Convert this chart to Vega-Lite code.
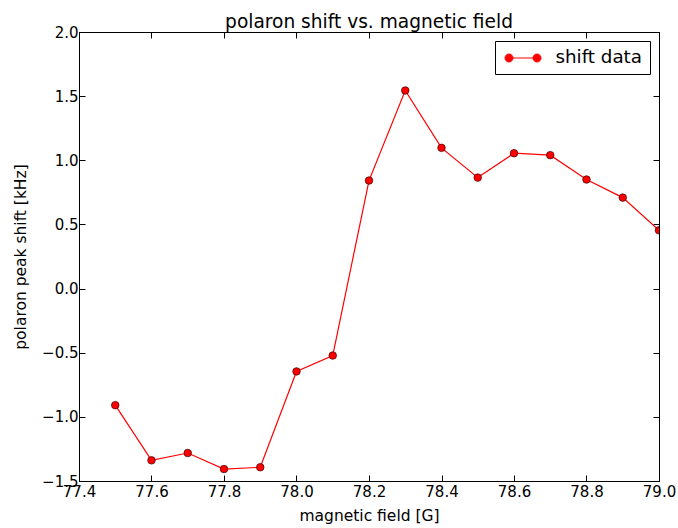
{
  "$schema": "https://vega.github.io/schema/vega-lite/v6.json",
  "width": 580,
  "height": 449,
  "autosize": {"type": "none"},
  "padding": {"left": 79, "top": 32, "right": 19, "bottom": 47},
  "background": "white",
  "config": {
    "font": "DejaVu Sans",
    "view": {"stroke": "black", "strokeWidth": 1},
    "axis": {
      "grid": false,
      "domainColor": "black",
      "domainWidth": 1,
      "tickColor": "black",
      "tickSize": -6,
      "tickWidth": 1,
      "labelFont": "DejaVu Sans",
      "labelFontSize": 15,
      "labelColor": "black",
      "titleFont": "DejaVu Sans",
      "titleFontSize": 15.5,
      "titleFontWeight": "normal",
      "titleColor": "black"
    }
  },
  "title": {
    "text": "polaron shift vs. magnetic field",
    "font": "DejaVu Sans",
    "fontSize": 18.6,
    "fontWeight": "normal",
    "color": "black",
    "anchor": "middle",
    "offset": -7
  },
  "data": {
    "values": [
      {"field": 77.5, "shift": -0.909, "series": "shift data"},
      {"field": 77.6, "shift": -1.339, "series": "shift data"},
      {"field": 77.7, "shift": -1.282, "series": "shift data"},
      {"field": 77.8, "shift": -1.407, "series": "shift data"},
      {"field": 77.9, "shift": -1.393, "series": "shift data"},
      {"field": 78.0, "shift": -0.646, "series": "shift data"},
      {"field": 78.1, "shift": -0.522, "series": "shift data"},
      {"field": 78.2, "shift": 0.842, "series": "shift data"},
      {"field": 78.3, "shift": 1.544, "series": "shift data"},
      {"field": 78.4, "shift": 1.097, "series": "shift data"},
      {"field": 78.5, "shift": 0.865, "series": "shift data"},
      {"field": 78.6, "shift": 1.055, "series": "shift data"},
      {"field": 78.7, "shift": 1.040, "series": "shift data"},
      {"field": 78.8, "shift": 0.850, "series": "shift data"},
      {"field": 78.9, "shift": 0.709, "series": "shift data"},
      {"field": 79.0, "shift": 0.454, "series": "shift data"}
    ]
  },
  "resolve": {"axis": {"x": "independent", "y": "independent"}},
  "layer": [
    {
      "mark": {
        "type": "line",
        "clip": true,
        "strokeWidth": 1.2,
        "point": {"filled": true, "size": 57, "stroke": "#3a0000", "strokeWidth": 0.7, "fill": "red", "opacity": 1}
      },
      "encoding": {
        "x": {
          "field": "field",
          "type": "quantitative",
          "scale": {"domain": [77.4, 79.0], "nice": false, "zero": false},
          "axis": {
            "title": "magnetic field [G]",
            "values": [77.4, 77.6, 77.8, 78.0, 78.2, 78.4, 78.6, 78.8, 79.0],
            "labelExpr": "format(datum.value, '.1f')",
            "labelPadding": 9,
            "titlePadding": 9,
            "labelFlush": false,
            "labelOverlap": false
          }
        },
        "y": {
          "field": "shift",
          "type": "quantitative",
          "scale": {"domain": [-1.5, 2.0], "nice": false, "zero": false},
          "axis": {
            "title": "polaron peak shift [kHz]",
            "values": [-1.5, -1.0, -0.5, 0.0, 0.5, 1.0, 1.5, 2.0],
            "labelExpr": "replace(format(datum.value, '.1f'), '-', '\u2212')",
            "labelPadding": 7,
            "titlePadding": 13,
            "labelFlush": false,
            "labelOverlap": false
          }
        },
        "color": {
          "field": "series",
          "type": "nominal",
          "scale": {"domain": ["shift data"], "range": ["red"]},
          "legend": {
            "title": null,
            "orient": "top-right",
            "offset": 9,
            "strokeColor": "black",
            "fillColor": "white",
            "padding": 7.5,
            "cornerRadius": 0,
            "labelFont": "DejaVu Sans",
            "labelFontSize": 18.3,
            "labelColor": "black",
            "symbolType": "M-1.556,0 L1.556,0 M-2,0 A0.444,0.444 0 1,0 -1.111,0 A0.444,0.444 0 1,0 -2,0 M1.111,0 A0.444,0.444 0 1,0 2,0 A0.444,0.444 0 1,0 1.111,0",
            "symbolSize": 324,
            "symbolOffset": 11,
            "symbolFillColor": "red",
            "symbolStrokeColor": "red",
            "symbolStrokeWidth": 1,
            "labelOffset": 23
          }
        }
      }
    },
    {
      "mark": {"type": "point", "opacity": 0},
      "encoding": {
        "x": {
          "field": "field",
          "type": "quantitative",
          "scale": {"domain": [77.4, 79.0], "nice": false, "zero": false},
          "axis": {
            "orient": "top",
            "title": null,
            "labels": false,
            "values": [77.4, 77.6, 77.8, 78.0, 78.2, 78.4, 78.6, 78.8, 79.0]
          }
        },
        "y": {
          "field": "shift",
          "type": "quantitative",
          "scale": {"domain": [-1.5, 2.0], "nice": false, "zero": false},
          "axis": {
            "orient": "right",
            "title": null,
            "labels": false,
            "values": [-1.5, -1.0, -0.5, 0.0, 0.5, 1.0, 1.5, 2.0]
          }
        }
      }
    }
  ]
}
